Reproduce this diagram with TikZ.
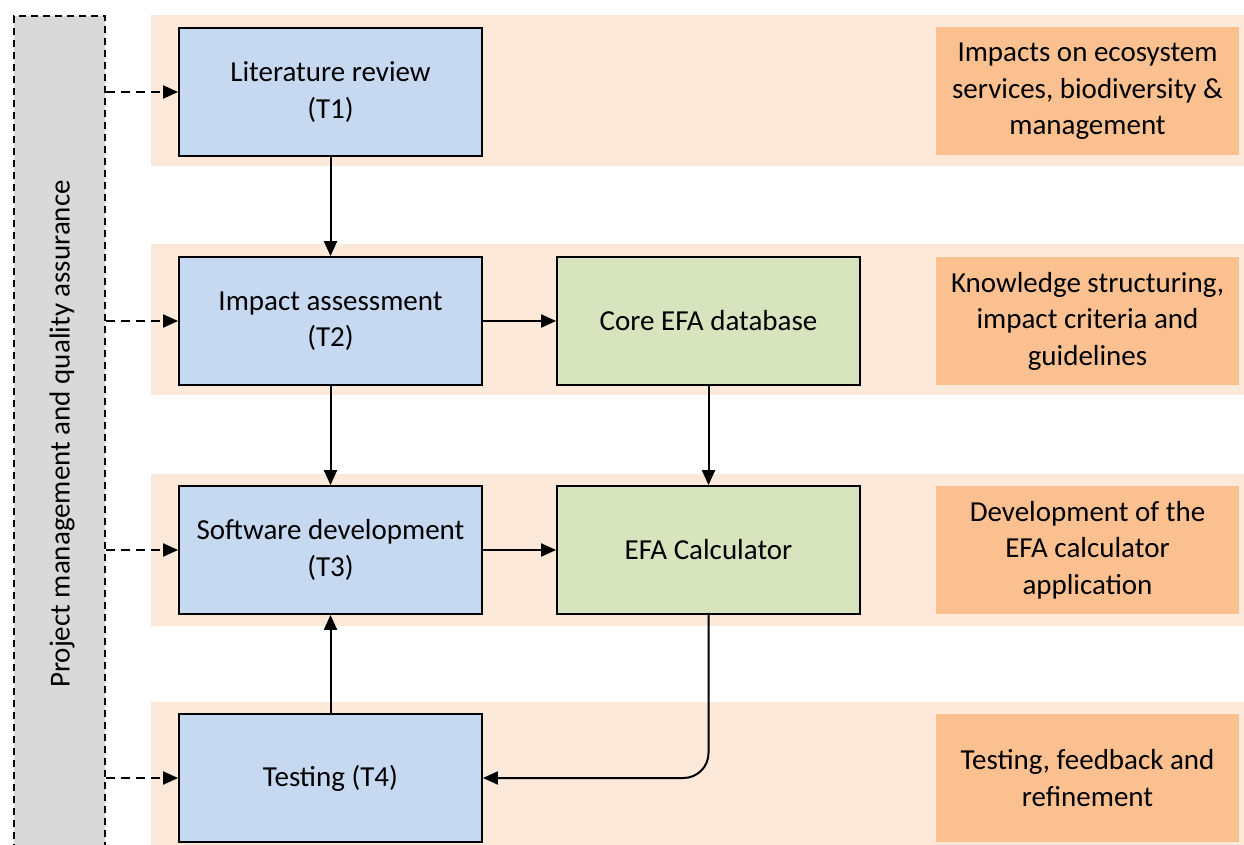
\documentclass[tikz,border=0pt]{standalone}
\usepackage{fontspec}
\setmainfont{Carlito}
\usetikzlibrary{arrows.meta, calc}

\definecolor{taskblue}{HTML}{C6D9F1}
\definecolor{outgreen}{HTML}{D7E4BD}
\definecolor{resorange}{HTML}{FAC090}
\definecolor{bandpeach}{HTML}{FDE9D9}
\definecolor{pmgray}{HTML}{D9D9D9}

\tikzset{
    task/.style={draw, line width=1.8pt, fill=taskblue, minimum width=303pt, minimum height=128pt, align=center},
    product/.style={draw, line width=1.8pt, fill=outgreen, minimum width=303pt, minimum height=128pt, align=center},
    result/.style={fill=resorange, minimum width=303pt, minimum height=128pt, align=center},
    flow/.style={line width=2pt, -{Triangle[length=15pt,width=13pt]}},
    pmflow/.style={flow, dash pattern=on 9pt off 6pt}
}

\begin{document}
\begin{tikzpicture}[x=1pt, y=-1pt, font=\fontsize{29}{36.5}\selectfont]

    \useasboundingbox (0,0) rectangle (1244,845);

    % Draw the background bands of the four work packages
    \fill[bandpeach] (151,15) rectangle (1244,166);
    \fill[bandpeach] (151,244) rectangle (1244,395);
    \fill[bandpeach] (151,474) rectangle (1244,626);
    \fill[bandpeach] (151,702) rectangle (1244,860);

    % Draw the project management bar
    \node[draw, line width=1.8pt, dash pattern=on 7pt off 5pt, fill=pmgray, minimum width=91pt, minimum height=850pt, anchor=north west] (pm) at (13,15) {};
    \node[rotate=90] (pmtext) at (62,434) {Project management and quality assurance};

    % Draw the tasks
    \node[task] (t1) at (330.5,92) {Literature review\\(T1)};
    \node[task] (t2) at (330.5,321) {Impact assessment\\(T2)};
    \node[task] (t3) at (330.5,550) {Software development\\(T3)};
    \node[task] (t4) at (330.5,778) {Testing (T4)};

    % Draw the products
    \node[product] (core) at (708.5,321) {Core EFA database};
    \node[product] (calc) at (708.5,550) {EFA Calculator};

    % Draw the results on the right
    \node[result] (r1) at (1087.5,91.5) {Impacts on ecosystem\\services, biodiversity \&\\management};
    \node[result] (r2) at (1087.5,321) {Knowledge structuring,\\impact criteria and\\guidelines};
    \node[result] (r3) at (1087.5,550) {Development of the\\EFA calculator\\application};
    \node[result] (r4) at (1087.5,778) {Testing, feedback and\\refinement};

    % Connect the tasks
    \draw[flow] (t1) -- (t2);
    \draw[flow] (t2) -- (t3);
    \draw[flow] (t4) -- (t3);
    \draw[flow] (t2) -- (core);
    \draw[flow] (t3) -- (calc);
    \draw[flow] (core) -- (calc);
    \draw[flow, rounded corners=25pt] (calc.south) |- (t4.east);

    % Connect the management bar to each task
    \foreach \t in {t1,t2,t3,t4}
        \draw[pmflow] (pm.east |- \t) -- (\t);

\end{tikzpicture}
\end{document}
